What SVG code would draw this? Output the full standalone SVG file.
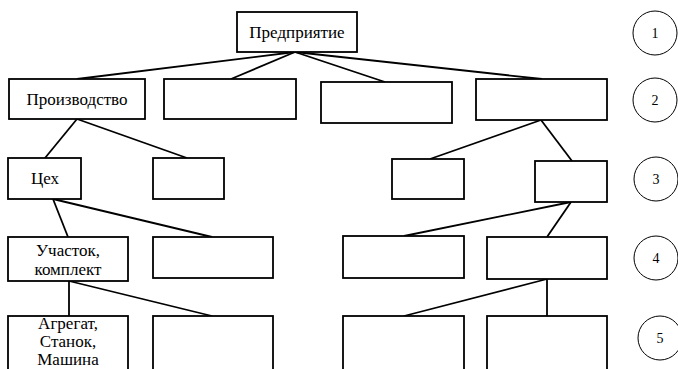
<svg xmlns="http://www.w3.org/2000/svg" width="678" height="369" viewBox="0 0 678 369">
<style>
.b{fill:#fff;stroke:#000;stroke-width:1.8}
.c{fill:#fff;stroke:#000;stroke-width:1}
.l{stroke:#000;stroke-width:1.8;fill:none}
text{font-family:"Liberation Serif","Times New Roman",serif;font-size:17px;fill:#000;text-anchor:middle}
.n{font-size:14px}
</style>
<rect width="678" height="369" fill="#fff"/>
<g id="connectors">
<line class="l" x1="295" y1="52" x2="77" y2="79"/>
<line class="l" x1="295" y1="52" x2="231" y2="79"/>
<line class="l" x1="295" y1="52" x2="385" y2="82"/>
<line class="l" x1="295" y1="52" x2="542" y2="79"/>
<line class="l" x1="77" y1="119" x2="45" y2="158"/>
<line class="l" x1="77" y1="119" x2="187" y2="158"/>
<line class="l" x1="541" y1="120" x2="430" y2="159"/>
<line class="l" x1="541" y1="120" x2="572" y2="161"/>
<line class="l" x1="53" y1="199" x2="68" y2="237"/>
<line class="l" x1="53" y1="199" x2="212" y2="237"/>
<line class="l" x1="571" y1="202" x2="404" y2="236"/>
<line class="l" x1="571" y1="202" x2="547" y2="237"/>
<line class="l" x1="69" y1="281" x2="69" y2="316"/>
<line class="l" x1="69" y1="281" x2="212" y2="316"/>
<line class="l" x1="547" y1="279" x2="404" y2="316"/>
<line class="l" x1="547" y1="279" x2="547" y2="316"/>
</g>
<g id="n-predpriyatie"><rect class="b" x="237" y="12" width="120" height="40"/><text x="297" y="38">Предприятие</text></g>
<g id="n-proizvodstvo"><rect class="b" x="9" y="79" width="136" height="40"/><text x="77" y="105">Производство</text></g>
<g id="n-r2b"><rect class="b" x="164" y="79" width="132" height="40"/></g>
<g id="n-r2c"><rect class="b" x="321" y="82" width="131" height="41"/></g>
<g id="n-r2d"><rect class="b" x="476" y="79" width="131" height="41"/></g>
<g id="n-tseh"><rect class="b" x="8" y="158" width="73" height="41"/><text x="45" y="184">Цех</text></g>
<g id="n-r3b"><rect class="b" x="153" y="158" width="71" height="41"/></g>
<g id="n-r3c"><rect class="b" x="392" y="159" width="72" height="40"/></g>
<g id="n-r3d"><rect class="b" x="535" y="161" width="72" height="41"/></g>
<g id="n-uchastok"><rect class="b" x="8" y="237" width="120" height="44"/><text x="68" y="256">Участок,</text><text x="68" y="275">комплект</text></g>
<g id="n-r4b"><rect class="b" x="153" y="237" width="120" height="41"/></g>
<g id="n-r4c"><rect class="b" x="343" y="236" width="121" height="42"/></g>
<g id="n-r4d"><rect class="b" x="487" y="237" width="120" height="42"/></g>
<g id="n-agregat"><rect class="b" x="8" y="316" width="120" height="60"/><text x="68" y="329">Агрегат,</text><text x="68" y="347">Станок,</text><text x="68" y="365">Машина</text></g>
<g id="n-r5b"><rect class="b" x="153" y="316" width="120" height="60"/></g>
<g id="n-r5c"><rect class="b" x="343" y="316" width="121" height="60"/></g>
<g id="n-r5d"><rect class="b" x="487" y="316" width="120" height="60"/></g>
<g id="level1"><circle class="c" cx="655" cy="33" r="22"/><text class="n" x="655" y="38">1</text></g>
<g id="level2"><circle class="c" cx="655" cy="100" r="22"/><text class="n" x="655" y="105">2</text></g>
<g id="level3"><circle class="c" cx="656" cy="179" r="22"/><text class="n" x="656" y="184">3</text></g>
<g id="level4"><circle class="c" cx="656" cy="258" r="22"/><text class="n" x="656" y="263">4</text></g>
<g id="level5"><circle class="c" cx="660" cy="338" r="22"/><text class="n" x="660" y="343">5</text></g>
</svg>
